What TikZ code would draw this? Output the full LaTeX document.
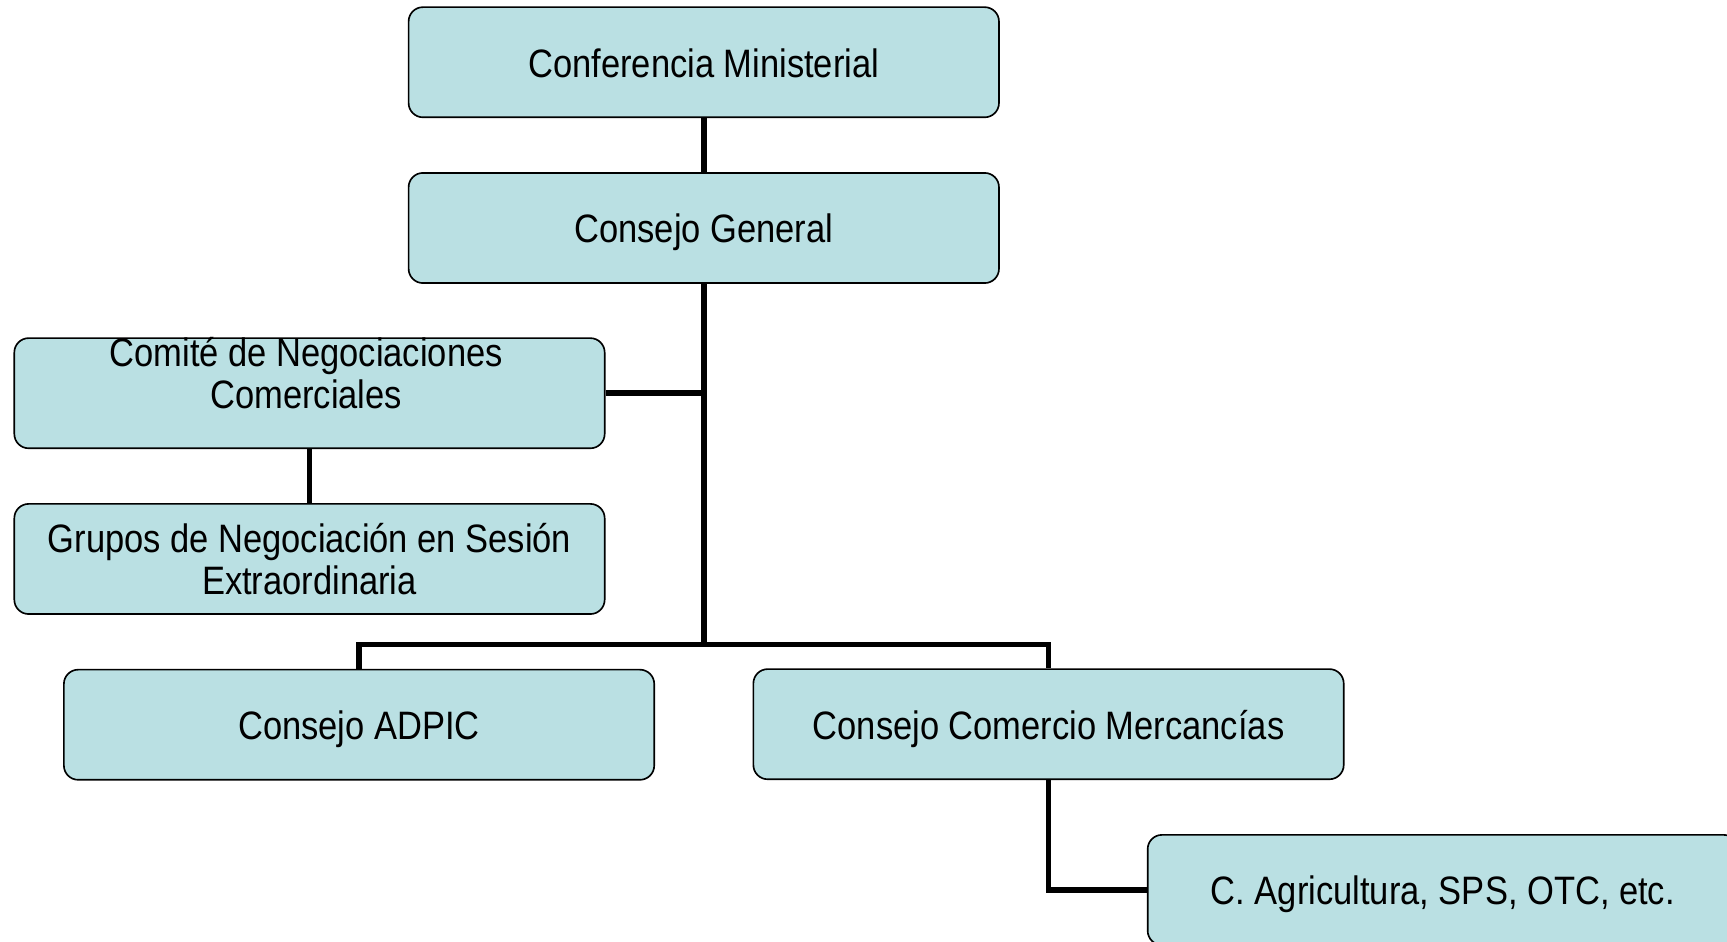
\documentclass[tikz,border=0pt]{standalone}
\usepackage{fontspec}
\setmainfont{Liberation Sans}[FakeStretch=0.87]
\definecolor{boxfill}{RGB}{186,224,227}
\begin{document}
\begin{tikzpicture}[x=1pt,y=-1pt,
  orgbox/.style={draw=black,line width=1.5pt,fill=boxfill,rounded corners=13pt,
    minimum width=536pt,minimum height=100pt,inner sep=0pt,align=center,
    font=\fontsize{36}{38}\selectfont},
  oneline/.style={orgbox,text height=27pt,text depth=0pt},
  boxtext/.style={inner sep=0pt,align=center,font=\fontsize{36}{38}\selectfont},
  link/.style={line width=5pt}]
\useasboundingbox (0,0) rectangle (1568,855);
\node[oneline] (b1) at (639,56.5) {Conferencia Ministerial};
\node[oneline] (b2) at (639,207) {Consejo General};
\node[orgbox] (b3) at (281,357) {};
\node[boxtext] (b3t) at (278,339) {Comité de Negociaciones\\Comerciales};
\node[orgbox] (b4) at (281,507.5) {Grupos de Negociación en Sesión\\Extraordinaria};
\node[oneline] (b5) at (326,658) {Consejo ADPIC};
\node[oneline] (b6) at (952,657.5) {Consejo Comercio Mercancías};
\node[oneline] (b7) at (1310,808) {C. Agricultura, SPS, OTC, etc.};
\coordinate (j) at (639,585);
\draw[link] (b1.south) -- (b2.north);
\draw[link] (b2.south) -- (j);
\draw[link] (b3.east) -- (b3.east -| j);
\draw[link] (b3.south) -- (b4.north);
\draw[link] (b5.north) |- (j) -| (b6.north);
\draw[link] (b6.south) |- (b7.west);
\end{tikzpicture}
\end{document}
